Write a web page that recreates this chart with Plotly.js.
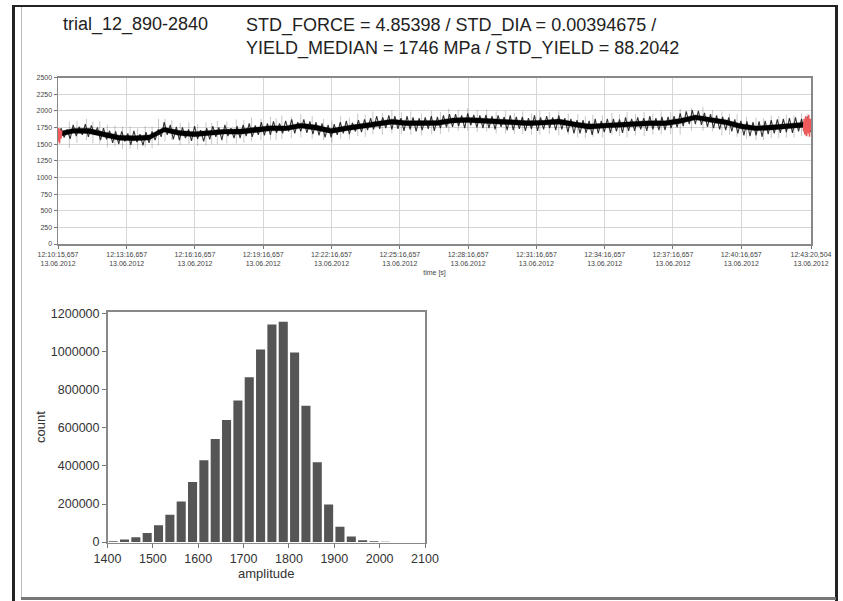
<!DOCTYPE html>
<html><head><meta charset="utf-8">
<script src="https://cdn.plot.ly/plotly-3.0.1.min.js"></script>
<style>
html,body{margin:0;padding:0;background:#fff;}
#wrap{position:relative;width:843px;height:601px;overflow:hidden;background:#fff;}
#chart{position:absolute;left:0;top:0;width:843px;height:601px;}
.b{position:absolute;}
</style></head><body>
<div id="wrap"><div id="chart"></div>
<div class="b" style="left:12px;top:5px;width:3px;height:596px;background:#222"></div>
<div class="b" style="left:12px;top:5px;width:826px;height:2px;background:#222"></div>
<div class="b" style="left:835px;top:5px;width:3px;height:596px;background:#222"></div>
<div class="b" style="left:21px;top:7px;width:1px;height:591px;background:#bbb"></div>
<div class="b" style="left:21px;top:597px;width:815px;height:3px;background:#777"></div>
</div>
<script>
// ---- data ----
const titleLeft = "trial_12_890-2840";
const titleRight = ["STD_FORCE = 4.85398 / STD_DIA = 0.00394675 /", "YIELD_MEDIAN = 1746 MPa / STD_YIELD = 88.2042"];
const recordDate = "13.06.2012";
const startTime = "12:10:15.657";
const endTime = "12:43:20.504";
const tickTimes = ["12:10:15.657","12:13:16.657","12:16:16.657","12:19:16.657","12:22:16.657","12:25:16.657","12:28:16.657","12:31:16.657","12:34:16.657","12:37:16.657","12:40:16.657","12:43:20.504"];
const yTicksTop = [0,250,500,750,1000,1250,1500,1750,2000,2250,2500];

// raw signal samples, every 8 s
const sampleStep = 8;
const signal = [
1560,1740,1600,1720,1580,1790,1620,1760,1640,1800,
1610,1780,1640,1750,1560,1740,1570,1700,1520,1690,
1500,1690,1540,1660,1490,1700,1530,1650,1480,1680,
1520,1690,1560,1720,1610,1830,1640,1790,1570,1760,
1560,1750,1590,1720,1550,1770,1580,1710,1540,1740,
1570,1770,1610,1750,1560,1790,1620,1740,1590,1770,
1590,1790,1620,1810,1610,1780,1640,1830,1630,1810,
1640,1840,1670,1810,1660,1850,1690,1870,1660,1830,
1690,1870,1670,1840,1650,1830,1630,1810,1600,1790,
1600,1800,1640,1830,1660,1850,1650,1820,1690,1860,
1680,1870,1710,1890,1720,1920,1730,1900,1740,1930,
1720,1920,1730,1890,1700,1920,1720,1900,1690,1890,
1710,1900,1730,1920,1700,1910,1740,1930,1750,1950,
1760,1950,1770,1930,1740,1960,1780,1940,1750,1930,
1740,1940,1740,1920,1720,1930,1760,1910,1710,1930,
1710,1910,1730,1910,1700,1890,1730,1930,1700,1900,
1720,1920,1740,1900,1710,1930,1720,1890,1680,1880,
1660,1860,1660,1860,1670,1850,1640,1880,1660,1850,
1680,1880,1670,1880,1690,1870,1670,1900,1700,1880,
1700,1900,1720,1890,1700,1920,1720,1890,1710,1910,
1710,1910,1740,1920,1750,1960,1770,1990,1800,2010,
1800,2000,1790,1970,1760,1950,1740,1930,1720,1910,
1710,1900,1690,1870,1660,1850,1630,1840,1620,1830,
1630,1840,1610,1850,1650,1860,1660,1870,1670,1880,
1680,1890,1670,1900,1690,1880,1660,1910,1680
];
// dense core of the trace (upper / lower edge), every 40 s
const bandStep = 40;
const bandHigh = [1685,1735,1738,1683,1634,1626,1637,1754,1705,1686,1707,1724,1727,1748,1776,1773,1814,1787,1733,1776,1809,1846,1874,1851,1849,1856,1893,1901,1889,1876,1859,1851,1858,1877,1834,1801,1813,1831,1839,1852,1849,1886,1938,1901,1864,1806,1773,1787,1809,1826,1825];
const bandLow  = [1611,1662,1659,1611,1558,1551,1561,1682,1628,1612,1629,1652,1648,1676,1699,1702,1741,1709,1661,1701,1733,1771,1799,1776,1774,1781,1818,1826,1814,1801,1784,1776,1786,1799,1761,1724,1741,1754,1766,1775,1776,1811,1864,1826,1789,1731,1701,1711,1734,1751,1751];
// faint outlier spikes (time in s, low / high value)
const spikeTimes = [30,50,75,92,110,130,150,170,190,210,230,248,265,282,300,322,345,368,390,405,420,445,470,490,510,535,560,575,590,615,640,670,700,722,745,768,790,810,830,855,880,905,930,958,985,1008,1030,1055,1080,1105,1130,1155,1180,1203,1225,1248,1270,1295,1320,1345,1370,1390,1410,1435,1460,1480,1500,1522,1545,1568,1590,1615,1640,1670,1700,1725,1750,1770,1790,1815,1840,1860,1880,1900,1920,1940,1960,1975];
const spikeLow  = [1440,1520,1560,1510,1500,1450,1470,1430,1430,1420,1450,1440,1480,1540,1560,1490,1500,1470,1480,1500,1500,1510,1510,1520,1540,1560,1560,1560,1580,1590,1600,1580,1560,1520,1580,1570,1620,1610,1650,1640,1660,1650,1640,1630,1650,1650,1680,1700,1700,1680,1690,1660,1660,1650,1650,1640,1640,1650,1630,1640,1600,1590,1610,1600,1640,1620,1600,1630,1620,1640,1650,1650,1640,1700,1700,1690,1630,1640,1610,1580,1560,1560,1590,1590,1600,1600,1620,1620];
const spikeHigh = [1840,1850,1880,1840,1840,1790,1780,1760,1760,1740,1770,1760,1880,1880,1860,1820,1830,1800,1830,1820,1850,1840,1870,1860,1900,1880,1910,1890,1930,1910,1950,1920,1880,1850,1920,1900,1960,1940,1990,1970,2010,1980,1990,1960,2000,1980,2030,2010,2040,2010,2020,1990,2000,1970,1990,1960,2000,1980,1990,1960,1950,1920,1940,1930,1970,1950,1980,1950,1980,1960,1990,1980,2030,2040,2060,2010,1990,1960,1950,1910,1900,1890,1930,1920,1940,1930,1960,1950];
// red (out-of-window) parts at both ends, every 2 s
const redStep = 2;
const redStart = [1540,1740,1510,1720,1580,1700];
const redEnd = [1700,1880,1640,1920,1620,1900,1660,1940,1610,1880,1700];

// histogram
const binCenters = [1412.5,1437.5,1462.5,1487.5,1512.5,1537.5,1562.5,1587.5,1612.5,1637.5,1662.5,1687.5,1712.5,1737.5,1762.5,1787.5,1812.5,1837.5,1862.5,1887.5,1912.5,1937.5,1962.5,1987.5,2012.5];
const counts = [5000,14000,26000,48000,89000,143000,213000,315000,429000,541000,641000,743000,865000,1011000,1142000,1156000,995000,716000,419000,198000,80000,30000,10000,4000,1500];
const histTicks = [0,200000,400000,600000,800000,1000000,1200000];

// ---- helpers ----
function secs(s){const p=s.split(':');return (+p[0])*3600+(+p[1])*60+parseFloat(p[2]);}
const t0 = secs(startTime), tEnd = secs(endTime)-t0;
const tickVals = tickTimes.map(s=>secs(s)-t0);
const tickText = tickTimes.map(s=>s.replace('.',',')+'<br>'+recordDate);
const sigX = signal.map((v,i)=>i*sampleStep);
const bandX = bandHigh.map((v,i)=>i*bandStep);
const spX=[],spY=[];
spikeTimes.forEach((t,i)=>{spX.push(t,t,null);spY.push(spikeLow[i],spikeHigh[i],null);});
const redSX = redStart.map((v,i)=>i*redStep);
const redEX = redEnd.map((v,i)=>tEnd-(redEnd.length-1-i)*redStep);

const W=843,H=601;
const px=x=>x/W, py=y=>1-y/H;
const FONT='"Liberation Sans", Arial, Helvetica, sans-serif';

const traces = [
 {x:spX,y:spY,type:'scatter',mode:'lines',line:{color:'rgba(0,0,0,0.28)',width:0.8},xaxis:'x',yaxis:'y'},
 {x:bandX,y:bandLow,type:'scatter',mode:'lines',line:{color:'rgba(0,0,0,0.6)',width:0.5},xaxis:'x',yaxis:'y'},
 {x:bandX,y:bandHigh,type:'scatter',mode:'lines',fill:'tonexty',fillcolor:'#000',line:{color:'rgba(0,0,0,0.6)',width:0.5},xaxis:'x',yaxis:'y'},
 {x:sigX,y:signal,type:'scatter',mode:'lines',line:{color:'rgba(0,0,0,0.8)',width:1.1},xaxis:'x',yaxis:'y'},
 {x:redSX,y:redStart,type:'scatter',mode:'lines',line:{color:'#f05a5a',width:1.5},xaxis:'x',yaxis:'y'},
 {x:redEX,y:redEnd,type:'scatter',mode:'lines',line:{color:'#f05a5a',width:1.5},xaxis:'x',yaxis:'y'},
 {x:binCenters,y:counts,type:'bar',marker:{color:'#555555',line:{width:0}},xaxis:'x2',yaxis:'y2'}
];

const layout = {
 width:W,height:H,margin:{l:0,r:0,t:0,b:0},showlegend:false,
 paper_bgcolor:'rgba(0,0,0,0)',plot_bgcolor:'#fff',bargap:0.2,
 font:{family:FONT,color:'#333'},
 xaxis:{domain:[px(58),px(811)],range:[0,tEnd],tickvals:tickVals,ticktext:tickText,
   tickfont:{size:7,color:'#444'},ticks:'outside',ticklen:3,tickcolor:'#777',
   showgrid:true,gridcolor:'#d6d6d6',gridwidth:1,zeroline:false,
   showline:true,linecolor:'#888',linewidth:1.5,mirror:true,
   title:{text:'time [s]',font:{size:7,color:'#444'},standoff:4},anchor:'y'},
 yaxis:{domain:[py(244),py(77.5)],range:[0,2500],tickvals:yTicksTop,
   tickfont:{size:7,color:'#444'},ticks:'outside',ticklen:3,tickcolor:'#777',
   showgrid:true,gridcolor:'#d6d6d6',gridwidth:1,zeroline:false,
   showline:true,linecolor:'#888',linewidth:1.5,mirror:true,anchor:'x'},
 xaxis2:{domain:[px(107.5),px(425)],range:[1400,2100],dtick:100,tick0:1400,
   tickfont:{size:12.5,color:'#333'},ticks:'outside',ticklen:4,tickcolor:'#777',
   showgrid:false,zeroline:false,showline:true,linecolor:'#888',linewidth:1.5,mirror:true,
   title:{text:'amplitude',font:{size:13,color:'#333'},standoff:3},anchor:'y2'},
 yaxis2:{domain:[py(542.5),py(311.5)],range:[-2000,1210000],tickvals:histTicks,
   tickformat:'d',tickfont:{size:12.5,color:'#333'},ticks:'outside',ticklen:4,tickcolor:'#777',
   showgrid:false,zeroline:false,showline:true,linecolor:'#888',linewidth:1.5,mirror:true,
   title:{text:'count',font:{size:13,color:'#333'},standoff:2},anchor:'x2'},
 annotations:[
  {text:titleLeft,xref:'paper',yref:'paper',x:px(61),y:py(12.5),xanchor:'left',yanchor:'top',showarrow:false,font:{size:18,color:'#222',family:FONT}},
  {text:titleRight.join('<br>'),xref:'paper',yref:'paper',x:px(244),y:py(12.5),xanchor:'left',yanchor:'top',align:'left',showarrow:false,font:{size:18,color:'#222',family:FONT}}
 ]
};
Plotly.newPlot('chart',traces,layout,{staticPlot:true,displayModeBar:false});
</script>
</body></html>
